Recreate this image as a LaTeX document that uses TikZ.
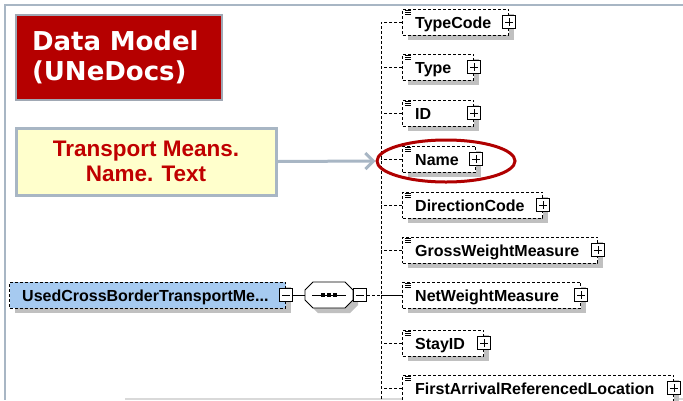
\documentclass[tikz,border=0pt]{standalone}
\usepackage{fontspec}
\setmainfont{DejaVu Sans}
\newfontfamily\xmlfont{Liberation Sans}
\usetikzlibrary{arrows.meta,shapes.geometric,shadows}

\definecolor{titlered}{HTML}{B50000}
\definecolor{titleedge}{HTML}{A0A8B4}
\definecolor{notered}{HTML}{C00000}
\definecolor{noteyellow}{HTML}{FFFFCC}
\definecolor{frameblue}{HTML}{A8B6C4}
\definecolor{ringred}{HTML}{B00000}
\definecolor{elemblue}{HTML}{A6CAF0}
\definecolor{shadowgray}{HTML}{C0C0C0}

\tikzset{
    elembox/.style={draw, dash pattern=on 3pt off 2pt, line width=1pt, fill=white,
        minimum height=26pt, inner sep=0pt, anchor=west,
        drop shadow={shadow xshift=5pt, shadow yshift=-5pt, fill=shadowgray, opacity=1}},
    toggle/.style={draw, fill=white, minimum size=13pt, inner sep=0pt, line width=0.8pt},
    branch/.style={dash pattern=on 3pt off 2pt, line width=1pt},
    elemlabel/.style={anchor=base west, inner sep=0pt, font=\xmlfont\bfseries\fontsize{16}{18}\selectfont},
}

\begin{document}
\begin{tikzpicture}[x=1pt,y=-1pt]
                    \useasboundingbox (0,0) rectangle (683,400);

                    % frame of the slide
                    \draw[frameblue, line width=2pt] (683,4.5) -- (5,4.5) -- (5,400);
                    \draw[black!15, line width=1.5pt] (125,399) -- (683,399);

                    \node[draw=titleedge, line width=1.5pt, fill=titlered, text=white, align=left,
                        minimum width=206pt, minimum height=85pt, text width=174pt, inner sep=0pt,
                        font=\bfseries\fontsize{26}{30}\selectfont] (title) at (119,57.5) {Data Model\\(UNeDocs)};

                    \node[draw=frameblue, line width=3pt, fill=noteyellow, text=notered, align=center,
                        minimum width=260pt, minimum height=67pt, inner sep=0pt,
                        font=\xmlfont\bfseries\fontsize{22.5}{25}\selectfont] (note) at (146,161.5) {Transport Means.\\Name. Text};

                    \coordinate (trunk) at (381,400);

                    \foreach \c/\r/\lbl [count=\i] in {22/508/TypeCode, 67/473/Type, 113/473/ID, 159/475/Name,
                        205/542/DirectionCode, 250/597/GrossWeightMeasure, 295/580/NetWeightMeasure,
                        343/483/StayID, 388/673/FirstArrivalReferencedLocation} {
                        \pgfmathsetmacro\w{\r-402}
                        \node[elembox, minimum width=\w pt] (e\i) at (402,\c) {};
                        \node[toggle] (p\i) at (e\i.east) {};
                        \draw ([xshift=3pt]p\i.west) -- ([xshift=-3pt]p\i.east)
                              ([yshift=-3pt]p\i.north) -- ([yshift=3pt]p\i.south);
                        \node[elemlabel] at ([xshift=13pt,yshift=-6.5pt]e\i.west) {\lbl};
                        \foreach \k in {2,4,6}
                            \draw[line width=0.6pt] ([xshift=3pt,yshift=-\k pt]e\i.north west) -- ++(6,0);
                        \draw[branch] (e\i.west) -- (e\i.west -| trunk);
                    }
                    \draw[branch] (e1.west) -| (trunk);

                    \node[elembox, fill=elemblue, minimum width=276pt] (used) at (9,295) {};
                    \node[elemlabel] at ([xshift=13pt,yshift=-6.5pt]used.west) {UsedCrossBorderTransportMe...};
                    \node[toggle] (m1) at (used.east) {};
                    \draw ([xshift=3pt]m1.west) -- ([xshift=-3pt]m1.east);

                    % sequence compositor
                    \node[minimum width=48pt, minimum height=26pt, inner sep=0pt] (seq) at (329,295) {};
                    \begin{scope}[shift={(seq.center)}]
                        \fill[shadowgray, shift={(5,5)}] (-24,-5) -- (-16,-13) -- (16,-13) -- (24,-5)
                            -- (24,5) -- (16,13) -- (-16,13) -- (-24,5) -- cycle;
                        \draw[fill=white, line width=0.8pt] (-24,-5) -- (-16,-13) -- (16,-13) -- (24,-5)
                            -- (24,5) -- (16,13) -- (-16,13) -- (-24,5) -- cycle;
                        \draw (-17,0) -- (17,0);
                        \foreach \dx in {-6,0,6}
                            \fill (\dx-2,-2) rectangle (\dx+2,2);
                    \end{scope}
                    \draw[line width=0.8pt] (m1.east) -- (seq.west);

                    \node[toggle, anchor=west] (m2) at (seq.east) {};
                    \draw ([xshift=3pt]m2.west) -- ([xshift=-3pt]m2.east);
                    \draw[branch] (m2.east) -- (e7.west);

                    \node[ellipse, draw=ringred, line width=3pt, minimum width=138pt, minimum height=42pt,
                        inner sep=0pt] (ring) at (446,161) {};
                    \draw[frameblue, line width=3pt, -{Straight Barb[length=8pt,width=16pt]}] (note.east) -- (ring.west);
                \end{tikzpicture}
\end{document}
